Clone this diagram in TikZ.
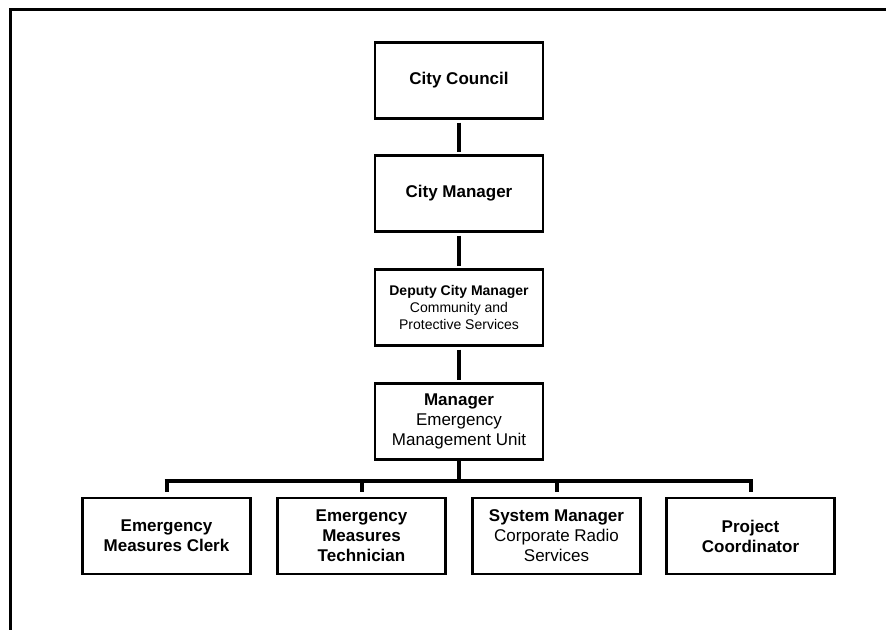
\documentclass[tikz,border=0pt]{standalone}
\usepackage{fontspec}
\setmainfont{Liberation Sans}
\begin{document}
\begin{tikzpicture}[x=1pt,y=-1pt,
  orgbox/.style={draw=black, line width=2.3pt, fill=white, rectangle,
    minimum width=168pt, minimum height=76pt, inner sep=2pt, align=center,
    font=\fontsize{17}{20}\selectfont},
  smallbox/.style={orgbox, font=\fontsize{14}{17}\selectfont},
  conn/.style={line width=4pt, shorten <=3pt, shorten >=2pt},
  bar/.style={line width=3.3pt},
  frameline/.style={line width=3pt}]
\useasboundingbox (0,0) rectangle (886,630);
% frame
\coordinate (ftl) at (10,9);
\coordinate (ftr) at (886,9);
\coordinate (fbl) at (10,630);
\draw[frameline] (ftr) -- (ftl) -- (fbl);
% main chain
\node[orgbox] (cc) at (459,80.5) {\textbf{City Council}};
\node[orgbox] (cm) at (459,193.5) {\textbf{City Manager}};
\node[smallbox] (dcm) at (459,307.5) {\textbf{Deputy City Manager}\\Community and\\Protective Services};
\node[orgbox] (mgr) at (459,421.5) {\textbf{Manager}\\Emergency\\Management Unit};
% bottom row
\node[orgbox] (b1) at (166.5,536) {\textbf{Emergency}\\\textbf{Measures Clerk}};
\node[orgbox] (b2) at (361.5,536) {\textbf{Emergency}\\\textbf{Measures}\\\textbf{Technician}};
\node[orgbox] (b3) at (556.5,536) {\textbf{System Manager}\\Corporate Radio\\Services};
\node[orgbox] (b4) at (750.5,536) {\textbf{Project}\\\textbf{Coordinator}};
% connectors
\draw[conn] (cc.south) -- (cm.north);
\draw[conn] (cm.south) -- (dcm.north);
\draw[conn] (dcm.south) -- (mgr.north);
\coordinate (bus) at (459,481);
\draw[line width=4pt] (mgr.south) -- (bus);
\draw[bar] ([xshift=-2pt]b1.north |- bus) -- ([xshift=2pt]b4.north |- bus);
\foreach \b in {b1,b2,b3,b4}{
  \draw[line width=4pt, shorten >=5pt] (\b.north |- bus) -- (\b.north);
}
\end{tikzpicture}
\end{document}
